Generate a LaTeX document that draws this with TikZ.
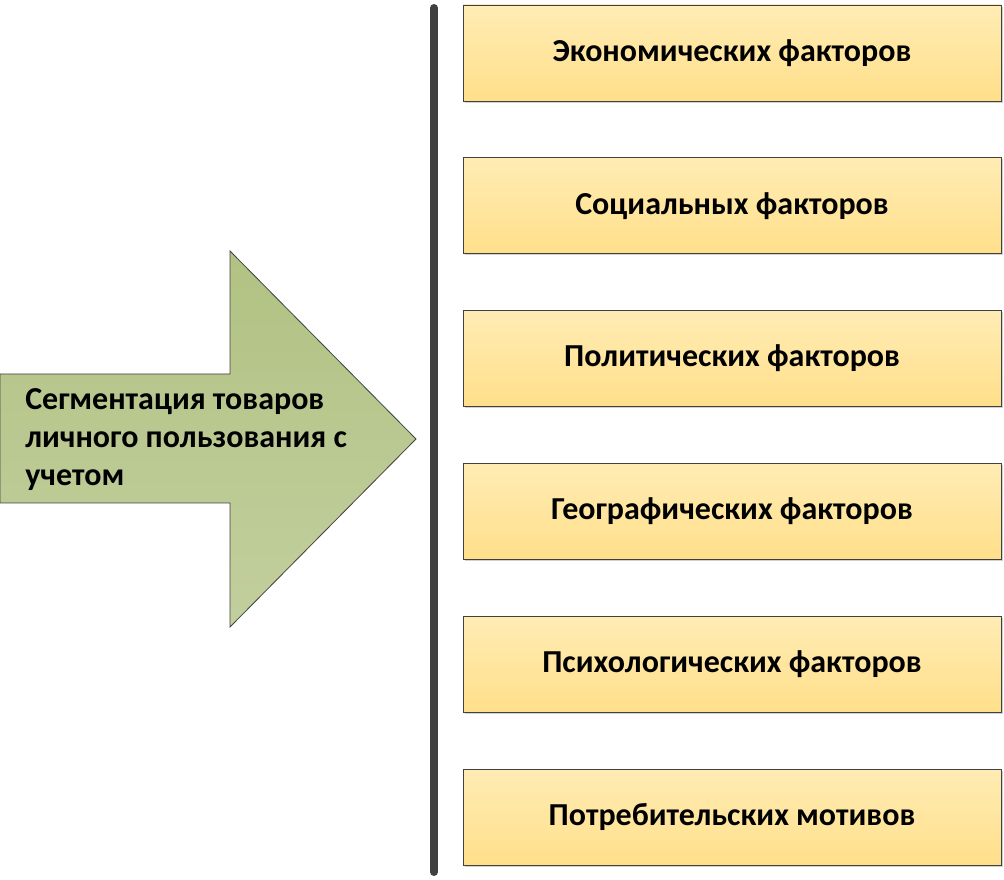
\documentclass[tikz,border=0pt]{standalone}
\usepackage{fontspec}
\setmainfont{Carlito}
\usepackage{tikz}
\usetikzlibrary{positioning,shadows}
\definecolor{boxtop}{HTML}{FFECB4}
\definecolor{boxbottom}{HTML}{FFDF8A}
\definecolor{arrowtop}{HTML}{B1C283}
\definecolor{arrowbottom}{HTML}{C2CF9E}
\definecolor{edge}{HTML}{404040}
\tikzset{
  factorbox/.style={draw=edge, line width=0.6pt, minimum width=403.5pt,
    minimum height=72pt, inner sep=0pt, align=center,
    font=\fontsize{24}{29}\selectfont\bfseries,
    top color=boxtop, bottom color=boxbottom,
    drop shadow={shadow xshift=1.2pt, shadow yshift=-1.2pt, fill=black!30, opacity=0.6}},
  arrowshape/.style={draw=edge, line width=0.6pt,
    top color=arrowtop, bottom color=arrowbottom},
  divider/.style={draw=edge, line width=6pt, line cap=round}
}

\begin{document}
\begin{tikzpicture}[x=0.75pt, y=-0.75pt, node distance=42pt]
    \useasboundingbox (0,0) rectangle (1004,880);
    % big arrow
    \path[arrowshape] (0,374) -- (230,374) -- (230,251) -- (416,439)
      -- (230,627) -- (230,503) -- (0,503) -- cycle;
    \node[anchor=west, align=left, inner sep=0pt,
      font=\fontsize{24}{28.5}\selectfont\bfseries] (segm) at (25,440)
      {Сегментация товаров\\личного пользования с\\учетом};
    % divider
    \coordinate (divtop) at (434,8);
    \coordinate (divbot) at (434,872);
    \draw[divider] (divtop) -- (divbot);
    % factors
    \node[factorbox] (econ) at (732,53) {Экономических факторов};
    \node[factorbox, below=of econ] (social) {Социальных факторов};
    \node[factorbox, below=of social] (polit) {Политических факторов};
    \node[factorbox, below=of polit] (geo) {Географических факторов};
    \node[factorbox, below=of geo] (psych) {Психологических факторов};
    \node[factorbox, below=of psych] (motive) {Потребительских мотивов};
\end{tikzpicture}
\end{document}
